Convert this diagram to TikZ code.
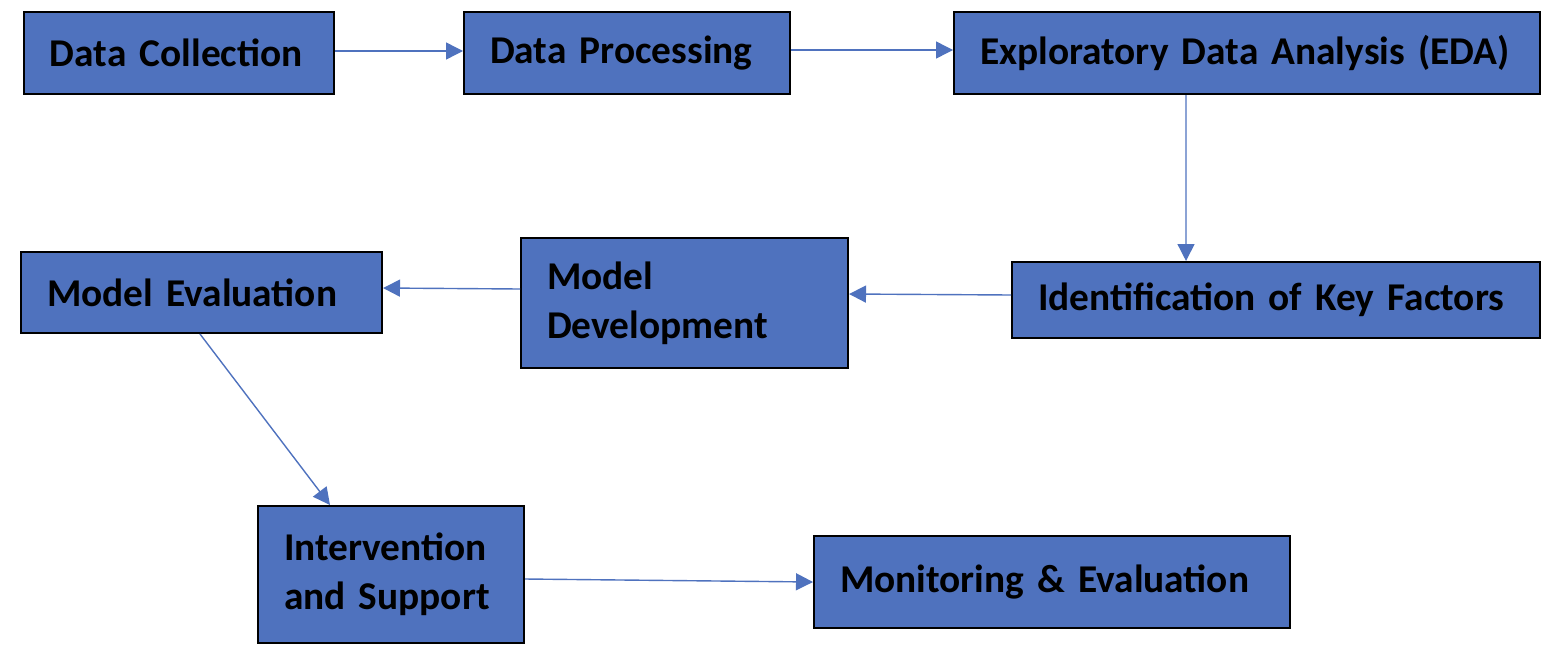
\documentclass[tikz,border=0pt]{standalone}
\usepackage{fontspec}
\setmainfont{Carlito}
\usetikzlibrary{positioning,arrows.meta}

\definecolor{stageblue}{RGB}{79,114,190}

\tikzset{
  stage/.style={draw=black, line width=0.02cm, fill=stageblue, inner xsep=0.26cm,
    inner ysep=0pt, align=left, font=\fontsize{11.2}{13.9}\selectfont\bfseries},
  flow/.style={draw=stageblue, line width=0.014cm, -{Triangle[length=0.17cm,width=0.17cm]}}
}

\begin{document}
\begin{tikzpicture}
\useasboundingbox (0,0) rectangle (15.54,-6.58);

% Top row
\node[stage, text width=2.58cm, minimum height=0.82cm] (collect) at (1.79,-0.53) {Data Collection};
\node[stage, text width=2.74cm, minimum height=0.82cm] (process) at (6.27,-0.53) {Data Processing};
\node[stage, text width=5.34cm, minimum height=0.82cm] (eda) at (12.47,-0.53) {Exploratory Data Analysis (EDA)};

% Middle row
\node[stage, text width=4.76cm, minimum height=0.76cm] (factors) at (12.76,-3.00) {Identification of Key Factors};
\node[stage, text width=2.75cm, minimum height=1.30cm] (develop) at (6.845,-3.03) {Model\\Development};
\node[stage, text width=3.09cm, minimum height=0.81cm] (evaluate) at (2.015,-2.925) {Model Evaluation};

% Bottom row
\node[stage, text width=2.14cm, minimum height=1.37cm] (support) at (3.91,-5.745) {Intervention\\and Support};
\node[stage, text width=4.24cm, minimum height=0.92cm] (monitor) at (10.52,-5.82) {Monitoring \& Evaluation};

% Connectors
\draw[flow] ([yshift=0.02cm]collect.east) -- ([yshift=0.02cm]process.west);
\draw[flow] ([yshift=0.03cm]process.east) -- ([yshift=0.03cm]eda.west);
\draw[flow] ([xshift=-0.61cm]eda.south) -- ([xshift=-0.90cm]factors.north);
\draw[flow] ([yshift=0.05cm]factors.west) -- ([yshift=0.09cm]develop.east);
\draw[flow] ([yshift=0.14cm]develop.west) -- ([yshift=0.045cm]evaluate.east);
\draw[flow] ([xshift=-0.015cm]evaluate.south) -- ([xshift=-0.61cm]support.north);
\draw[flow] ([yshift=-0.045cm]support.east) -- (monitor.west);
\end{tikzpicture}
\end{document}
